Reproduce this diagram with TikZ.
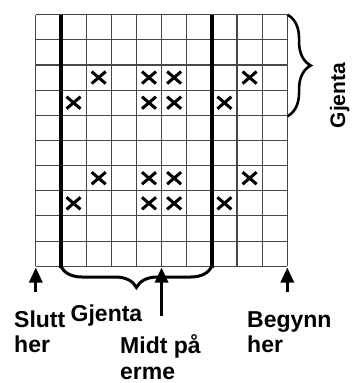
\documentclass[tikz,border=0pt]{standalone}
\usepackage{fontspec}
\setmainfont{Liberation Sans}
\usetikzlibrary{arrows.meta,decorations.pathreplacing}
\begin{document}
\begin{tikzpicture}[x=1pt,y=-1pt,
  gridline/.style={draw=black!72,line width=1.1pt},
  thickline/.style={line width=4.2pt,line cap=butt},
  xmark/.style={line width=3pt},
  bracebot/.style={decorate,decoration={brace,amplitude=21pt},line width=3pt},
  braceright/.style={decorate,decoration={brace,amplitude=23.5pt},line width=2.6pt},
  uparrow/.style={line width=3pt,-{Triangle[length=15pt,width=13pt]}},
  lbl/.style={font=\fontsize{23}{25}\selectfont\bfseries,inner sep=0pt,anchor=base west,align=left},
  vlbl/.style={font=\fontsize{21}{23}\selectfont\bfseries,inner sep=0pt,anchor=base west,rotate=90}]
\fill[white] (0,0) rectangle (352,383);
\useasboundingbox (0,0) rectangle (352,383);
% grid
\foreach \i in {0,...,10}{
  \draw[gridline] (35.8+25.15*\i,14.7) -- (35.8+25.15*\i,266.2);
  \draw[gridline] (35.8,14.7+25.15*\i) -- (287.3,14.7+25.15*\i);
}
% thick repeat lines
\draw[thickline] (60.95,14.7) -- (60.95,267.5);
\draw[thickline] (211.85,14.7) -- (211.85,267.5);
% crosses
\foreach \r/\c in {2/2,2/4,2/5,2/8,3/1,3/4,3/5,3/7,6/2,6/4,6/5,6/8,7/1,7/4,7/5,7/7}{
  \draw[xmark] (35.8+25.15*\c+12.575-7,14.7+25.15*\r+12.575-6) -- ++(14,12);
  \draw[xmark] (35.8+25.15*\c+12.575-7,14.7+25.15*\r+12.575+6) -- ++(14,-12);
}
% braces
\coordinate (bl) at (60.95,266.5);
\coordinate (br) at (211.85,266.5);
\draw[bracebot] (br) -- (bl);
\coordinate (rt) at (287.3,14.7);
\coordinate (rb) at (287.3,116.3);
\draw[braceright] (rt) -- (rb);
% arrows
\coordinate (slutttail) at (35.8,291.7);
\coordinate (sluttip) at (35.8,267.5);
\coordinate (midttail) at (161.55,316);
\coordinate (midttip) at (161.55,267.5);
\coordinate (begtail) at (287.3,291.7);
\coordinate (begtip) at (287.3,267.5);
\draw[uparrow] (slutttail) -- (sluttip);
\draw[uparrow] (midttail) -- (midttip);
\draw[uparrow] (begtail) -- (begtip);
% labels (base anchor = baseline of last line)
\node[lbl] (slutt) at (14,352) {Slutt\\her};
\node[lbl] (gjentabot) at (70.5,321) {Gjenta};
\node[lbl,font=\fontsize{23}{26}\selectfont\bfseries] (midt) at (120,379) {Midt på\\erme};
\node[lbl] (begynn) at (247,352) {Begynn\\her};
\node[vlbl] (gjentaright) at (345,128.5) {Gjenta};
\end{tikzpicture}
\end{document}
